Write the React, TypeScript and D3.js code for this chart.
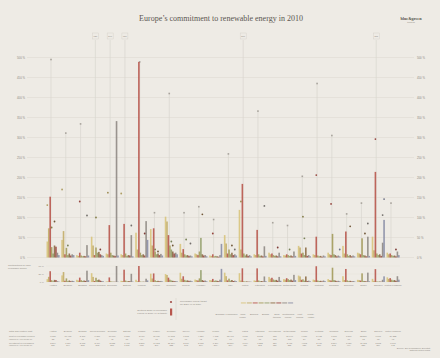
import React from "react";
import * as d3 from "d3";

// countries along the x axis
const countries = [
  "Austria", "Belgium", "Bulgaria", "Czech Republic", "Denmark", "Estonia",
  "Finland", "France", "Germany", "Greece", "Hungary", "Ireland", "Italy",
  "Latvia", "Lithuania", "Luxembourg", "Netherlands", "Poland", "Portugal",
  "Romania", "Slovenia", "Spain", "Sweden", "United Kingdom",
];

const sources = [
  "Biomass", "Hydropower", "Wind power", "Biofuels", "Biogas",
  "Solar thermal", "Geothermal energy", "Heat pumps", "Photovoltaic",
];
const sourceColors = [
  "#d8c47c", "#c2ad68", "#b8564d", "#a39b5b", "#93a06c",
  "#8c6c45", "#9c4a44", "#8f8a84", "#8a8ea6",
];

// 2010 values per source (%), one row per country
const values = [
  [40, 73, 152, 26, 10, 30, 27, 12, 6],
  [44, 66, 8, 24, 6, 10, 5, 8, 6],
  [6, 4, 12, 5, 3, 4, 3, 31, 5],
  [52, 30, 6, 25, 12, 14, 8, 6, 4],
  [10, 8, 81, 12, 6, 5, 4, 341, 5],
  [8, 6, 84, 10, 4, 6, 5, 56, 3],
  [62, 20, 489, 12, 6, 8, 5, 91, 44],
  [71, 30, 73, 15, 8, 10, 6, 9, 5],
  [102, 90, 56, 30, 20, 15, 10, 12, 8],
  [34, 12, 21, 8, 5, 6, 4, 5, 3],
  [10, 8, 6, 15, 49, 8, 5, 6, 3],
  [5, 4, 8, 3, 4, 3, 2, 6, 34],
  [56, 35, 10, 20, 8, 12, 6, 8, 5],
  [119, 20, 184, 10, 5, 8, 4, 6, 3],
  [8, 6, 69, 8, 4, 5, 3, 28, 4],
  [12, 8, 10, 6, 4, 5, 3, 12, 3],
  [6, 5, 8, 6, 4, 5, 3, 15, 4],
  [29, 25, 10, 12, 6, 25, 4, 6, 3],
  [8, 6, 52, 5, 3, 4, 2, 5, 3],
  [12, 8, 6, 59, 8, 6, 3, 5, 3],
  [29, 10, 65, 8, 4, 6, 3, 5, 3],
  [12, 10, 8, 48, 6, 5, 3, 52, 4],
  [52, 18, 214, 10, 6, 8, 4, 37, 94],
  [12, 8, 10, 6, 4, 5, 3, 15, 6],
];

// target markers per source (0 = none)
const targets = [
  [131, 0, 0, 75, 0, 90, 0, 0, 0],
  [170, 0, 0, 0, 30, 0, 0, 0, 0],
  [0, 0, 140, 0, 0, 0, 0, 105, 0],
  [0, 0, 0, 100, 0, 0, 20, 0, 0],
  [0, 162, 0, 0, 0, 0, 0, 0, 0],
  [160, 0, 0, 0, 0, 0, 0, 80, 0],
  [0, 0, 0, 0, 0, 0, 60, 0, 0],
  [0, 0, 0, 20, 0, 15, 0, 0, 0],
  [0, 0, 0, 0, 40, 30, 0, 0, 0],
  [0, 0, 0, 0, 45, 0, 0, 35, 0],
  [0, 0, 0, 0, 0, 108, 0, 0, 0],
  [0, 0, 60, 0, 0, 0, 0, 0, 0],
  [0, 0, 0, 0, 0, 30, 0, 20, 0],
  [0, 140, 0, 0, 0, 0, 0, 0, 0],
  [0, 0, 0, 0, 0, 0, 0, 129, 0],
  [0, 0, 0, 0, 0, 0, 25, 0, 0],
  [0, 0, 0, 0, 20, 0, 0, 0, 0],
  [0, 0, 0, 102, 48, 0, 0, 0, 0],
  [0, 0, 206, 0, 0, 0, 0, 0, 0],
  [0, 0, 134, 0, 0, 0, 0, 0, 20],
  [0, 0, 0, 0, 0, 78, 0, 0, 0],
  [0, 0, 0, 0, 0, 60, 0, 85, 0],
  [0, 0, 296, 0, 0, 0, 0, 106, 146],
  [0, 0, 0, 0, 0, 0, 20, 0, 0],
];

// overall 2020 target line per country
const peaks = [
  495, 311, 334, 620, 590, 650, 489, 112, 410, 112, 127, 95,
  259, 560, 366, 87, 80, 203, 435, 305, 109, 136, 575, 136,
];

const yTicks = [0, 50, 100, 150, 200, 250, 300, 350, 400, 450, 500];
const miniTicks = [0, 30, 60];

const costTotal = ["8,737", "10,412", "3,108", "6,260", "10,071", "1,121", "3,917", "61,770", "74,512", "7,103", "4,317", "4,173", "55,467", "1,811", "2,683", "812", "18,640", "9,027", "5,913", "6,108", "1,571", "33,380", "6,011", "59,233"];
const costHead = ["32", "30", "42", "61", "43", "51", "64", "95", "88", "61", "43", "93", "91", "80", "81", "162", "113", "24", "56", "28", "77", "72", "65", "95"];
const investTotal = ["2,399", "1,116", "2,075", "2,764", "2,133", "1,488", "3,281", "19,112", "27,314", "2,770", "3,012", "1,204", "12,319", "1,014", "1,322", "318", "3,911", "4,802", "2,977", "5,214", "1,020", "10,112", "5,512", "8,771"];
const investHead = ["286", "104", "273", "262", "387", "1,110", "612", "297", "333", "245", "299", "269", "204", "450", "393", "636", "237", "126", "280", "242", "499", "220", "589", "142"];

const legendLabels = [
  ["Biomass"], ["Hydropower"], ["Wind", "power"], ["Biofuels"], ["Biogas"],
  ["Solar", "thermal"], ["Geothermal", "energy"], ["Heat", "pumps"], ["Photo-", "voltaic"],
];

const App = () => {
  const W = 440;
  const H = 358;
  const x = d3.scalePoint<string>().domain(countries).range([53, 393]);
  const inner = d3.scaleBand<number>().domain(d3.range(sources.length)).range([-6.5, 6.5]);
  const y = d3.scaleLinear().domain([0, 500]).range([257.5, 57.5]);
  const yMini = d3.scaleLinear().domain([0, 60]).range([282, 266]);
  const bw = 1.6;
  const txt = "#8d877f";
  const sans = "Liberation Sans, Arial, sans-serif";
  const serif = "Liberation Serif, Times New Roman, serif";
  const legX = d3.scalePoint<number>().domain(d3.range(9)).range([220, 311]);
  const dashX = d3.scaleBand<number>().domain(d3.range(9)).range([240, 294]).padding(0.15);

  return (
    <svg width={W} height={H} style={{ position: "absolute", left: 0, top: 0 }} fontFamily={sans}>
      <rect width={W} height={H} fill="#eeebe5" />
      <text x={221} y={21} textAnchor="middle" fontFamily={serif} fontSize={8} fill="#5b5651">
        Europe’s commitment to renewable energy in 2010
      </text>
      <text x={411} y={20} textAnchor="middle" fontFamily={serif} fontSize={4.2} fontWeight="bold" fill="#55504b">
        blue&amp;green
      </text>
      <text x={411} y={23} textAnchor="middle" fontSize={1.8} fill={txt}>tomorrow</text>

      {/* main grid */}
      {yTicks.map((t) => (
        <g key={t}>
          <line x1={27} x2={414} y1={y(t)} y2={y(t)} stroke="#e1ddd6" strokeWidth={0.7} />
          <text x={25} y={y(t) + 1} textAnchor="end" fontSize={2.8} fill={txt}>{t} %</text>
          <text x={417} y={y(t) + 1} fontSize={2.8} fill={txt}>{t} %</text>
        </g>
      ))}

      {/* country target lines */}
      {countries.map((c, i) => {
        const lx = x(c)! - 2;
        const over = peaks[i] > 500;
        const top = over ? 40 : y(peaks[i]);
        return (
          <g key={c + "line"}>
            <line x1={lx} x2={lx} y1={top} y2={y(0)} stroke="#d9d5ce" strokeWidth={0.7} />
            {over ? (
              <g>
                <rect x={lx - 3} y={33} width={6} height={6} fill="none" stroke="#d3cec6" strokeWidth={0.4} />
                <text x={lx} y={37} textAnchor="middle" fontSize={2.2} fill={txt}>{peaks[i]}</text>
              </g>
            ) : (
              <rect x={lx - 0.8} y={top - 0.8} width={1.6} height={1.6} fill="#a8a39c" />
            )}
          </g>
        );
      })}

      {/* bars */}
      {countries.map((c, i) =>
        values[i].map((v, j) => (
          <rect
            key={c + j}
            x={x(c)! + inner(j)!}
            y={y(v)}
            width={bw}
            height={y(0) - y(v)}
            fill={sourceColors[j]}
            opacity={0.9}
          />
        ))
      )}

      {/* target markers */}
      {countries.map((c, i) =>
        targets[i].map((v, j) =>
          v > 0 ? (
            <circle key={c + "t" + j} cx={x(c)! + inner(j)! + bw / 2} cy={y(v)} r={0.9} fill={d3.color(sourceColors[j])!.darker(0.6).toString()} />
          ) : null
        )
      )}

      {/* mini panel: share of each source */}
      <text x={8} y={266} fontSize={2.4} fill={txt}>Contributions of each</text>
      <text x={8} y={269.2} fontSize={2.4} fill={txt}>renewable source</text>
      {miniTicks.map((t) => (
        <g key={"m" + t}>
          <line x1={46} x2={400} y1={yMini(t)} y2={yMini(t)} stroke="#e4e0d9" strokeWidth={0.5} />
          <text x={44} y={yMini(t) + 1} textAnchor="end" fontSize={2.4} fill={txt}>{t} %</text>
        </g>
      ))}
      {countries.map((c, i) => {
        const total = d3.sum(values[i]);
        return (
          <g key={c + "mini"}>
            {values[i].map((v, j) => {
              const s = Math.min(60, (v / total) * 100);
              return (
                <rect key={j} x={x(c)! + inner(j)!} y={yMini(s)} width={bw} height={yMini(0) - yMini(s)} fill={sourceColors[j]} opacity={0.9} />
              );
            })}
            <text x={x(c)} y={286} textAnchor="middle" fontSize={2.4} fill={txt}>{c}</text>
          </g>
        );
      })}

      {/* legend */}
      <line x1={176} x2={176} y1={298} y2={320} stroke="#d3cec6" strokeWidth={0.5} />
      <circle cx={171} cy={302} r={1.1} fill="#a4504a" />
      <text x={180} y={301.5} fontSize={2.4} fill={txt}>Renewable energy target</text>
      <text x={180} y={304.5} fontSize={2.4} fill={txt}>for 2020 (% of total)</text>
      <rect x={170} y={308.5} width={2.2} height={7} fill="#b8564d" />
      <text x={167} y={311} textAnchor="end" fontSize={2.4} fill={txt}>Sectoral share of renewable</text>
      <text x={167} y={314} textAnchor="end" fontSize={2.4} fill={txt}>energy in 2010 (% of target)</text>
      {sources.map((s, j) => (
        <g key={s}>
          <rect x={dashX(j)} y={302.5} width={dashX.bandwidth()} height={0.9} fill={sourceColors[j]} />
          {legendLabels[j].map((l, k) => (
            <text key={k} x={legX(j)} y={315 + k * 3} textAnchor="middle" fontSize={2.3} fill={txt}>{l}</text>
          ))}
        </g>
      ))}

      {/* table */}
      <text x={9} y={332} fontSize={2.4} fill={txt}>Total and relative cost</text>
      <text x={9} y={337} fontSize={2.2} fill={txt}>Cost of renewable policies</text>
      <text x={9} y={339.8} fontSize={2.2} fill={txt}>(million €) / per head (€)</text>
      <text x={9} y={343.6} fontSize={2.2} fill={txt}>Investment in renewables</text>
      <text x={9} y={346.4} fontSize={2.2} fill={txt}>(million €) / per head (€)</text>
      {countries.map((c, i) => (
        <g key={c + "tab"} fontSize={2.2} fill={txt} textAnchor="middle">
          <text x={x(c)} y={332}>{c}</text>
          <text x={x(c)} y={337}>{costTotal[i]}</text>
          <text x={x(c)} y={339.8}>{costHead[i]}</text>
          <text x={x(c)} y={343.6}>{investTotal[i]}</text>
          <text x={x(c)} y={346.4}>{investHead[i]}</text>
        </g>
      ))}
      <text x={430} y={348.5} textAnchor="end" fontSize={2.2} fill={txt}>Source: EU Commission, Eurostat</text>
      <text x={430} y={351.3} textAnchor="end" fontSize={2.2} fill={txt}>National action plans</text>
    </svg>
  );
};

export default App;
